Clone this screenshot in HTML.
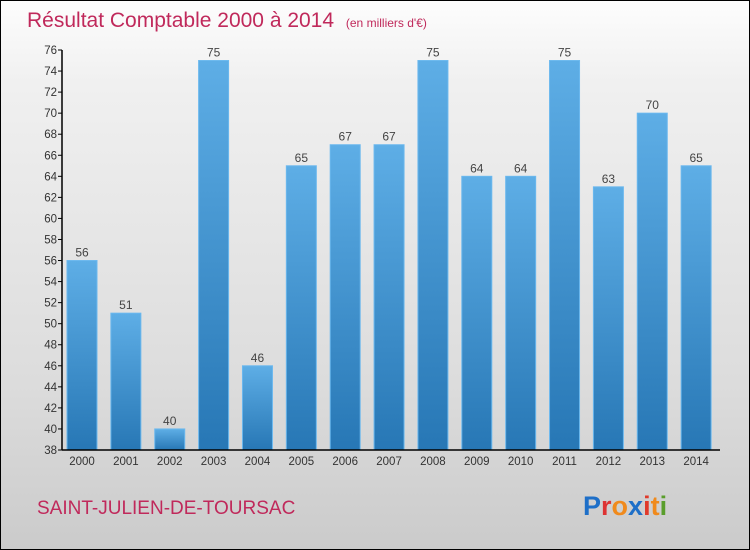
<!DOCTYPE html>
<html><head><meta charset="utf-8"><style>
body{margin:0}
#c{position:relative;width:748px;height:548px;border:1px solid #000;background:linear-gradient(#fdfdfd,#f0f0f0 15%,#dcdcdc 70%,#cbcbcb);font-family:"Liberation Sans",sans-serif;overflow:hidden}
</style></head><body>
<div id="c">
<svg width="748" height="548" xmlns="http://www.w3.org/2000/svg" id="svg">
<defs><linearGradient id="g" x1="0" y1="0" x2="0" y2="1"><stop offset="0" stop-color="#5eaee6"/><stop offset="1" stop-color="#2777b5"/></linearGradient></defs>
<text x="26" y="26" font-size="21" fill="#c0295b">Résultat Comptable 2000 à 2014 <tspan font-size="12" dx="6">(en milliers d'€)</tspan></text>
<text x="36" y="513" font-size="19" fill="#c0295b">SAINT-JULIEN-DE-TOURSAC</text>
<text x="582" y="514" font-size="27" font-weight="bold"><tspan fill="#1e6fc8">P</tspan><tspan fill="#d33">r</tspan><tspan fill="#f08a1c">o</tspan><tspan fill="#1e6fc8">x</tspan><tspan fill="#e03a2a">i</tspan><tspan fill="#f08a1c">t</tspan><tspan fill="#5a9e2c">i</tspan></text>
<g id="plot"></g>
</svg></div>
<script>
const years=["2000","2001","2002","2003","2004","2005","2006","2007","2008","2009","2010","2011","2012","2013","2014"];
const values=[56,51,40,75,46,65,67,67,75,64,64,75,63,70,65];
const yTicks=[38,40,42,44,46,48,50,52,54,56,58,60,62,64,66,68,70,72,74,76];
const ns="http://www.w3.org/2000/svg";
const g=document.getElementById('plot');
const x0=61,x1=719,yb=449,yt=49,ymin=38,ymax=76;
const y=v=>yb-(v-ymin)*(yb-yt)/(ymax-ymin);
const step=(x1-x0)/years.length;
function mk(t,a){const e=document.createElementNS(ns,t);for(const k in a)e.setAttribute(k,a[k]);g.appendChild(e);return e;}
values.forEach((v,i)=>{
 const bx=x0+5+i*step;
 const r=mk('rect',{x:bx,y:y(v),width:30,height:yb-y(v),fill:'url(#g)',stroke:'#6bb8ee','stroke-width':1});
 
 
 const t=mk('text',{x:bx+15,y:y(v)-4,'font-size':12,fill:'#444','text-anchor':'middle'});t.textContent=v;
 
 
 const xl=mk('text',{x:bx+15,y:yb+15,'font-size':11.5,fill:'#333','text-anchor':'middle'});xl.textContent=years[i];
 
 
});
yTicks.forEach(v=>{
 mk('line',{x1:x0-4,x2:x0,y1:y(v),y2:y(v),stroke:'#000'});
 const t=mk('text',{x:x0-5,y:y(v)+4,'font-size':11.5,fill:'#333','text-anchor':'end'});t.textContent=v;
 
 
});
const ya=mk('line',{x1:x0,x2:x0,y1:yt,y2:yb,stroke:'#000','stroke-width':1.5});


const xa=mk('line',{x1:x0,x2:x1,y1:yb,y2:yb,stroke:'#000','stroke-width':1.5});


</script>
</body></html>
